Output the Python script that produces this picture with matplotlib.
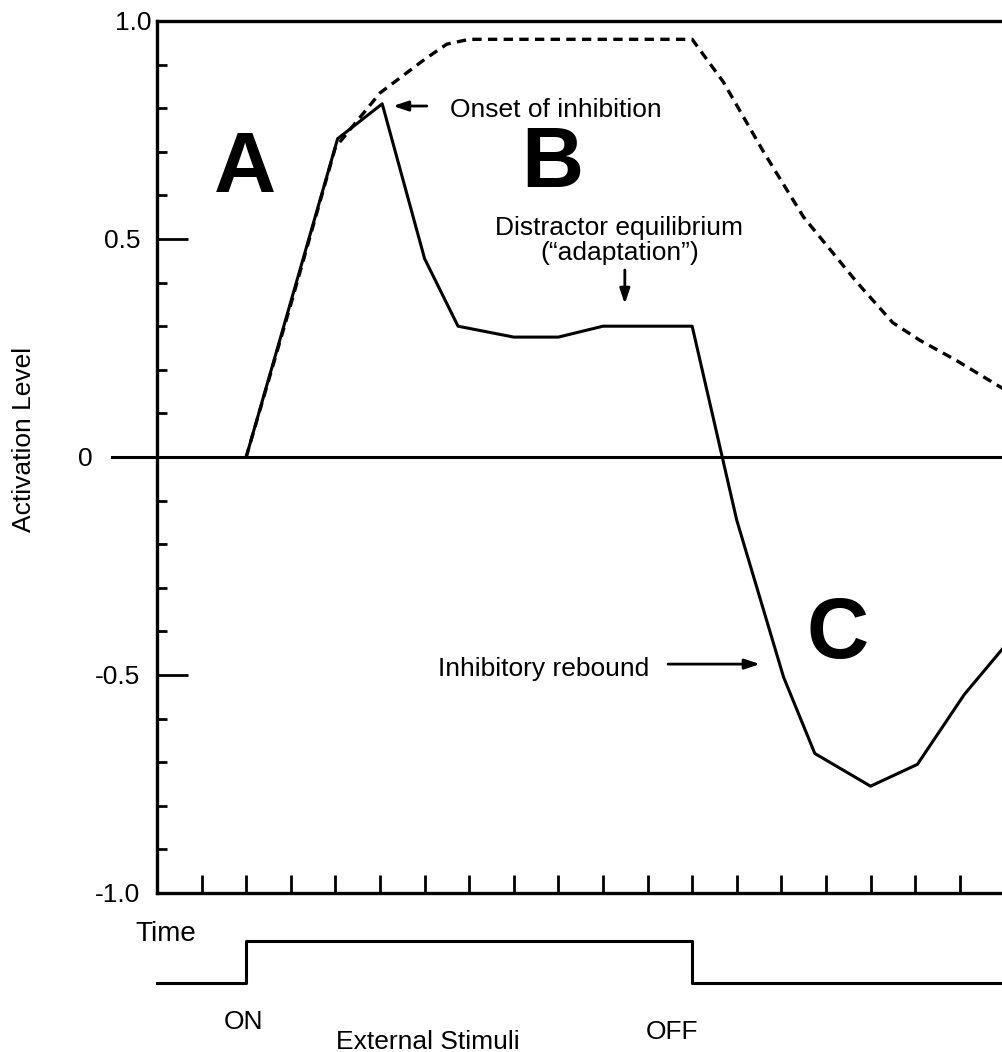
import numpy as np
import matplotlib
matplotlib.use("Agg")
import matplotlib.pyplot as plt

plt.rcParams['font.family'] = ['Liberation Sans', 'DejaVu Sans']

# activacion con inhibicion (linea continua)
solid_t = [2.0, 4.05, 5.05, 6.0, 6.75, 8.0, 9.0, 10.0, 12.0, 13.0, 14.05, 14.75, 16.0, 17.05, 18.1, 19.0]
solid_y = [0.0, 0.73, 0.81, 0.455, 0.30, 0.275, 0.275, 0.30, 0.30, -0.145, -0.505, -0.68, -0.755, -0.705, -0.545, -0.435]

# activacion sin inhibicion (linea discontinua)
dash_t = [2.0, 3.0, 4.0, 5.0, 6.0, 6.5, 7.0, 12.0, 12.7, 13.6, 14.5, 15.1, 15.7, 16.5, 17.1, 17.9, 19.0]
dash_y = [0.0, 0.35, 0.71, 0.835, 0.912, 0.947, 0.958, 0.958, 0.86, 0.70, 0.55, 0.475, 0.40, 0.308, 0.268, 0.223, 0.155]

# estimulo externo ON / OFF
stim_t = [0, 2, 2, 12, 12, 19]
stim_v = [0, 0, 1, 1, 0, 0]

ytick_vals = [-1.0, -0.5, 0, 0.5, 1.0]
ytick_labels = ['-1.0', '-0.5', '0', '0.5', '1.0']

W, H = 1003, 1052
fig = plt.figure(figsize=(W / 100, H / 100), dpi=100)
ax = fig.add_axes([157 / W, (H - 893) / H, (W - 157) / W, (893 - 21) / H])

ax.plot(solid_t, solid_y, color='black', linewidth=2.2)
ax.plot(dash_t, dash_y, color='black', linewidth=2.4, linestyle=(0, (2.8, 1.9)))
ax.plot([-1.01, 19.5], [0, 0], color='black', linewidth=2.2, clip_on=False)

ax.set_xlim(0, 18.97)
ax.set_ylim(-1.0, 1.0)

for s in ['left', 'bottom', 'top']:
    ax.spines[s].set_linewidth(2.4)
ax.spines['right'].set_visible(False)

ax.set_yticks(ytick_vals)
ax.set_yticklabels(ytick_labels, fontsize=19)
ax.set_yticks(np.arange(-1.0, 1.01, 0.1), minor=True)
ax.tick_params(axis='y', which='major', direction='in', length=22, width=2, pad=12)
ax.tick_params(axis='y', which='minor', direction='in', length=7, width=2)
ytk = ax.yaxis.get_major_ticks()
ytk[2].set_pad(46)
ytk[4].set_pad(4)

ax.set_xticks(np.arange(1, 19))
ax.set_xticklabels([])
ax.tick_params(axis='x', which='major', direction='in', length=13, width=2)

ax.set_ylabel('Activation Level', fontsize=19)
ax.yaxis.set_label_coords(-0.143, 0.52)

# letras grandes
big = dict(fontsize=62, fontweight='bold', ha='center', va='baseline')
ax.text(1.97, 0.608, 'A', **big)
ax.text(8.86, 0.619, 'B', **big)
ax.text(15.27, -0.462, 'C', **big)

# anotaciones
arr = dict(arrowstyle='-|>,head_length=0.9,head_width=0.3', color='black', lw=2, shrinkA=0, shrinkB=0)
ax.annotate('', xy=(5.29, 0.805), xytext=(6.05, 0.805), arrowprops=arr)
ax.text(6.57, 0.780, 'Onset of inhibition', fontsize=19, ha='left', va='baseline')

ax.text(10.36, 0.509, 'Distractor equilibrium', fontsize=19, ha='center', va='baseline')
ax.text(10.38, 0.452, '(\u201cadaptation\u201d)', fontsize=19, ha='center', va='baseline')
ax.annotate('', xy=(10.49, 0.351), xytext=(10.49, 0.429), arrowprops=arr)

ax.text(6.3, -0.502, 'Inhibitory rebound', fontsize=19, ha='left', va='baseline')
ax.annotate('', xy=(13.52, -0.475), xytext=(11.46, -0.475), arrowprops=arr)

# panel del estimulo
ax2 = fig.add_axes([157 / W, 0, (W - 157) / W, (H - 900) / H])
ax2.set_xlim(0, 18.97)
ax2.set_ylim(-1.643, 1.976)
ax2.axis('off')
ax2.plot(stim_t, stim_v, color='black', linewidth=2.2, clip_on=False)
ax2.text(-0.49, 1.167, 'Time', fontsize=20, ha='left', va='center')
ax2.text(1.93, -0.929, 'ON', fontsize=19, ha='center', va='center')
ax2.text(11.55, -1.167, 'OFF', fontsize=19, ha='center', va='center')
ax2.text(6.08, -1.40, 'External Stimuli', fontsize=19, ha='center', va='center')

fig.savefig('out.png', dpi=100)
